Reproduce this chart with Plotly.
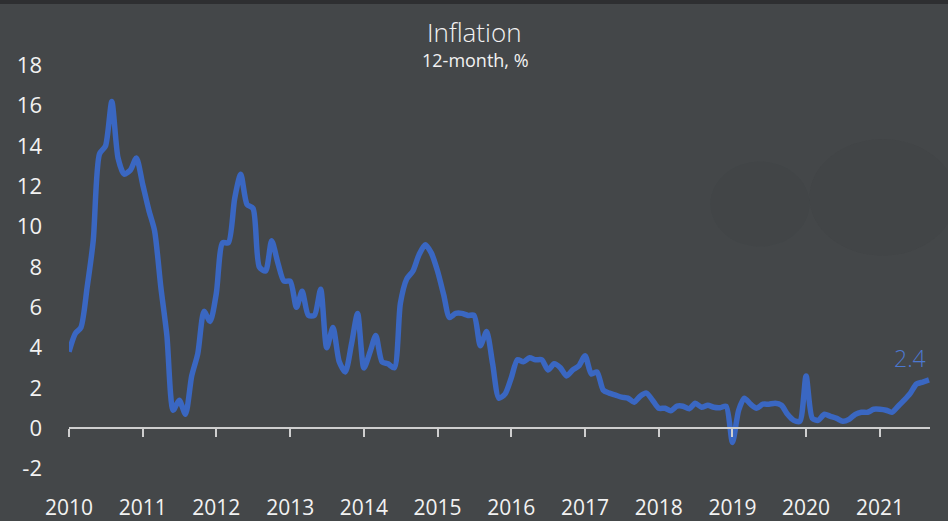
import pandas as pd
import plotly.graph_objects as go

# Monthly 12-month inflation, Jan 2010 - Sep 2021 (%)
inflation = [
    # 2010
    3.8, 4.7, 5.0, 7.0, 9.3, 13.6, 14.0, 16.2, 13.4, 12.6, 12.8, 13.4,
    # 2011
    12.1, 10.8, 9.8, 7.0, 4.6, 0.9, 1.4, 0.7, 2.6, 3.7, 5.8, 5.3,
    # 2012
    6.7, 9.2, 9.2, 11.4, 12.6, 11.1, 10.9, 8.0, 7.8, 9.3, 8.2, 7.3,
    # 2013
    7.3, 6.0, 6.8, 5.6, 5.6, 6.9, 4.0, 5.0, 3.3, 2.8, 4.2, 5.7,
    # 2014
    3.0, 3.8, 4.6, 3.3, 3.2, 3.0, 6.2, 7.4, 7.8, 8.6, 9.1, 8.7,
    # 2015
    7.8, 6.6, 5.5, 5.7, 5.7, 5.6, 5.6, 4.1, 4.8, 3.2, 1.5, 1.7,
    # 2016
    2.5, 3.4, 3.3, 3.5, 3.4, 3.4, 2.9, 3.2, 3.0, 2.6, 2.9, 3.1,
    # 2017
    3.6, 2.7, 2.8, 1.9, 1.75, 1.65, 1.55, 1.5, 1.3, 1.6, 1.75, 1.4,
    # 2018
    1.0, 1.0, 0.87, 1.1, 1.1, 0.97, 1.25, 1.05, 1.15, 1.05, 1.03, 1.1,
    # 2019
    -0.7, 0.9, 1.5, 1.2, 1.0, 1.2, 1.2, 1.25, 1.15, 0.7, 0.4, 0.35,
    # 2020
    2.6, 0.5, 0.4, 0.7, 0.6, 0.5, 0.35, 0.45, 0.7, 0.8, 0.8, 0.95,
    # 2021
    0.95, 0.9, 0.8, 1.1, 1.4, 1.75, 2.2, 2.3, 2.4,
]
dates = pd.date_range("2010-01-01", periods=len(inflation), freq="MS")

year_ticks = [f"{y}-01-01" for y in range(2010, 2022)]
year_labels = [str(y) for y in range(2010, 2022)]
y_ticks = list(range(-2, 20, 2))
y_labels = [str(v) for v in y_ticks]

title_text = "Inflation"
subtitle_text = "12-month, %"
last_label = f"{inflation[-1]:.1f}"

line_color = "#3A67C2"
text_color = "#F2F2F2"
axis_color = "#CFCFCF"
bg_color = "#444749"

fig = go.Figure()
fig.add_trace(go.Scatter(
    x=dates, y=inflation, mode="lines",
    line=dict(color=line_color, width=5.5, shape="spline", smoothing=0.7),
    hoverinfo="skip", showlegend=False,
))
# invisible trace to carry the zero-positioned tick axis
fig.add_trace(go.Scatter(
    x=[dates[0], dates[-1]], y=[0, 0], xaxis="x2", mode="lines",
    line=dict(width=0), opacity=0, hoverinfo="skip", showlegend=False,
))

y_min, y_max = -3.2, 19
zero_pos = (0 - y_min) / (y_max - y_min)
x_range = ["2010-01-01", "2021-09-06"]
T, B, L, R = 45, 28, 69, 18
PH = 521 - T - B
PW = 948 - L - R

def py(pix):
    return (521 - B - pix) / PH

def px(pix):
    return (pix - L) / PW

fig.update_layout(
    width=948, height=521,
    margin=dict(l=L, r=R, t=T, b=B, autoexpand=False),
    paper_bgcolor=bg_color, plot_bgcolor="rgba(0,0,0,0)",
    font=dict(family="Open Sans, Noto Sans, sans-serif", color=text_color),
    xaxis=dict(
        range=x_range, tickvals=year_ticks, ticktext=year_labels,
        showgrid=False, zeroline=False, showline=False, ticks="",
        tickfont=dict(size=21, color=text_color), automargin=False,
    ),
    xaxis2=dict(
        range=x_range, overlaying="x", anchor="free", position=zero_pos,
        tickvals=year_ticks, showticklabels=False,
        showgrid=False, zeroline=False, automargin=False,
        showline=True, linecolor=axis_color, linewidth=2,
        ticks="outside", ticklen=8, tickwidth=2, tickcolor=axis_color,
    ),
    yaxis=dict(
        range=[y_min, y_max], tickvals=y_ticks, ticktext=y_labels,
        showgrid=False, zeroline=False, showline=False, ticks="",
        tickfont=dict(size=22, color=text_color), automargin=False,
        ticklabelstandoff=26,
    ),
    shapes=[
        dict(type="rect", xref="paper", yref="paper",
             x0=px(0), x1=px(948), y0=py(4), y1=py(0),
             fillcolor="#2E2F31", line=dict(width=0), layer="below"),
        dict(type="circle", xref="paper", yref="paper",
             x0=0.745, x1=0.86, y0=0.55, y1=0.74,
             fillcolor="rgba(40,44,48,0.06)", line=dict(width=0), layer="below"),
        dict(type="circle", xref="paper", yref="paper",
             x0=0.86, x1=1.03, y0=0.53, y1=0.79,
             fillcolor="rgba(40,44,48,0.05)", line=dict(width=0), layer="below"),
    ],
    annotations=[
        dict(text=title_text, xref="paper", yref="paper", x=px(474), y=py(32),
             xanchor="center", yanchor="middle", showarrow=False,
             font=dict(size=26, color=text_color, weight=300)),
        dict(text=subtitle_text, xref="paper", yref="paper", x=px(475), y=py(60),
             xanchor="center", yanchor="middle", showarrow=False,
             font=dict(size=18, color=text_color)),
        dict(text=last_label, x=dates[-1], y=inflation[-1], xref="x", yref="y",
             xanchor="right", yanchor="middle", yshift=22, xshift=-1, showarrow=False,
             font=dict(size=23, color="#4C78D0", weight=300)),
    ],
)

fig.write_html(
    "out.html",
    config={"displayModeBar": False},
    post_script="document.body.style.margin='0';",
)
